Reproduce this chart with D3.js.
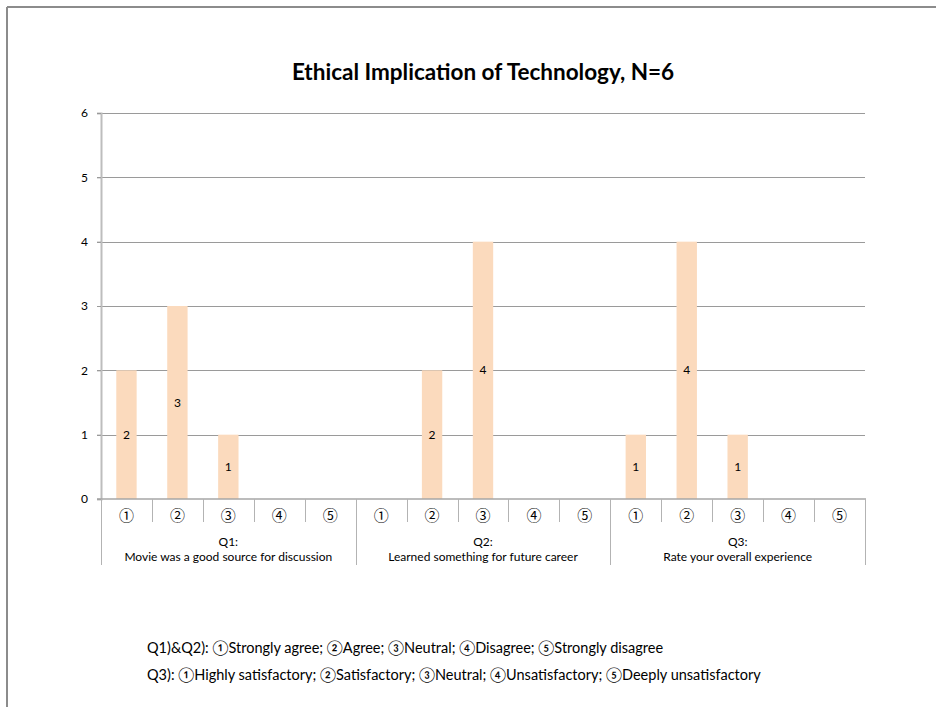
<!DOCTYPE html>
<html>
<head>
<meta charset="utf-8">
<script src="https://cdn.jsdelivr.net/npm/d3@7"></script>
<style>
  html, body { margin: 0; padding: 0; background: #fff; }
  svg { display: block; font-family: Lato, "Noto Sans CJK JP", sans-serif; }
</style>
</head>
<body>
<svg id="chart" width="936" height="707"></svg>
<script>
// Survey responses: counts per answer option for each question
const groups = ["Q1", "Q2", "Q3"];
const groupTitles = [
  ["Q1:", "Movie was a good source for discussion"],
  ["Q2:", "Learned something for future career"],
  ["Q3:", "Rate your overall experience"]
];
const options = ["①", "②", "③", "④", "⑤"];
const q1Values = [2, 3, 1, 0, 0];
const q2Values = [0, 2, 4, 0, 0];
const q3Values = [1, 4, 1, 0, 0];
const yTicks = [0, 1, 2, 3, 4, 5, 6];
const chartTitle = "Ethical Implication of Technology, N=6";
const legendLines = [
  "Q1)&Q2): ①Strongly agree; ②Agree; ③Neutral; ④Disagree; ⑤Strongly disagree",
  "Q3): ①Highly satisfactory; ②Satisfactory; ③Neutral; ④Unsatisfactory; ⑤Deeply unsatisfactory"
];

const seriesByGroup = [q1Values, q2Values, q3Values];
const rows = [];
groups.forEach((g, gi) => {
  options.forEach((o, oi) => {
    rows.push({ key: g + "-" + oi, group: g, gi, option: o, value: seriesByGroup[gi][oi] });
  });
});

const svg = d3.select("#chart");

// Page frame
svg.append("line").attr("x1", 7).attr("x2", 936).attr("y1", 7).attr("y2", 7)
  .attr("stroke", "#8c8c8c").attr("stroke-width", 2);
svg.append("line").attr("x1", 7).attr("x2", 7).attr("y1", 7).attr("y2", 707)
  .attr("stroke", "#8c8c8c").attr("stroke-width", 2);

const plotLeft = 101, plotRight = 865, plotTop = 113, plotBottom = 499;

const x = d3.scaleBand().domain(rows.map(d => d.key)).range([plotLeft, plotRight]).paddingInner(0).paddingOuter(0);
const y = d3.scaleLinear().domain([0, 6]).range([plotBottom, plotTop]);

// Title
svg.append("text")
  .attr("x", 483).attr("y", 80)
  .attr("text-anchor", "middle")
  .attr("font-size", 22.5).attr("font-weight", "bold")
  .attr("fill", "#000")
  .text(chartTitle);

// Gridlines
svg.append("g").selectAll("line").data(yTicks.filter(t => t > 0)).join("line")
  .attr("x1", plotLeft - 4).attr("x2", plotRight)
  .attr("y1", d => Math.round(y(d)) + 0.5).attr("y2", d => Math.round(y(d)) + 0.5)
  .attr("stroke", "#9a9a9a").attr("stroke-width", 1);

// Y axis
const yAxis = d3.axisLeft(y).tickValues(yTicks).tickSize(4).tickPadding(9).tickFormat(d3.format("d"));
const ya = svg.append("g").attr("transform", `translate(${plotLeft},0)`).call(yAxis);
ya.select(".domain").attr("stroke", "#bdbdbd").attr("stroke-width", 2);
ya.selectAll(".tick line").attr("stroke", "#9a9a9a");
ya.selectAll(".tick text").attr("font-size", 12).attr("fill", "#000").attr("font-family", "Lato, sans-serif");

// Bars
const bw = x.bandwidth() * 0.4;
svg.append("g").selectAll("rect").data(rows.filter(d => d.value > 0)).join("rect")
  .attr("x", d => x(d.key) + (x.bandwidth() - bw) / 2)
  .attr("width", bw)
  .attr("y", d => y(d.value))
  .attr("height", d => y(0) - y(d.value))
  .attr("fill", "#fbdabd");

// Value labels
svg.append("g").selectAll("text").data(rows.filter(d => d.value > 0)).join("text")
  .attr("x", d => x(d.key) + x.bandwidth() / 2)
  .attr("y", d => y(d.value / 2) + 4)
  .attr("text-anchor", "middle")
  .attr("font-size", 12).attr("fill", "#000")
  .text(d => d.value);

// X axis baseline
svg.append("line").attr("x1", plotLeft - 4).attr("x2", plotRight + 1)
  .attr("y1", plotBottom).attr("y2", plotBottom)
  .attr("stroke", "#a6a6a6").attr("stroke-width", 1.5);

// Category separators
const catEdges = rows.map((d, i) => ({ xPos: x(d.key), groupEdge: i % options.length === 0 }));
catEdges.push({ xPos: plotRight, groupEdge: true });
svg.append("g").selectAll("line").data(catEdges).join("line")
  .attr("x1", d => Math.round(d.xPos) + 0.5).attr("x2", d => Math.round(d.xPos) + 0.5)
  .attr("y1", plotBottom).attr("y2", d => d.groupEdge ? 565 : 522)
  .attr("stroke", "#b3b3b3").attr("stroke-width", 1);

// Option labels
svg.append("g").selectAll("text").data(rows).join("text")
  .attr("x", d => x(d.key) + x.bandwidth() / 2)
  .attr("y", 521)
  .attr("text-anchor", "middle")
  .attr("font-size", 15).attr("fill", "#000")
  .attr("font-family", "'Noto Sans CJK JP', sans-serif")
  .text(d => d.option);

// Group labels
const groupCenters = groups.map((g, gi) => {
  const first = x(g + "-0");
  const last = x(g + "-" + (options.length - 1)) + x.bandwidth();
  return { gi, cx: (first + last) / 2 };
});
const gl = svg.append("g").selectAll("text").data(groupCenters).join("text")
  .attr("text-anchor", "middle")
  .attr("font-size", 12).attr("fill", "#000");
gl.append("tspan").attr("x", d => d.cx).attr("y", 546).text(d => groupTitles[d.gi][0]);
gl.append("tspan").attr("x", d => d.cx).attr("y", 561).text(d => groupTitles[d.gi][1]);

// Option legend
svg.append("g").selectAll("text").data(legendLines).join("text")
  .attr("x", 147)
  .attr("y", (d, i) => 653 + i * 27)
  .attr("font-size", 14.5).attr("fill", "#000")
  .text(d => d);
</script>
</body>
</html>
